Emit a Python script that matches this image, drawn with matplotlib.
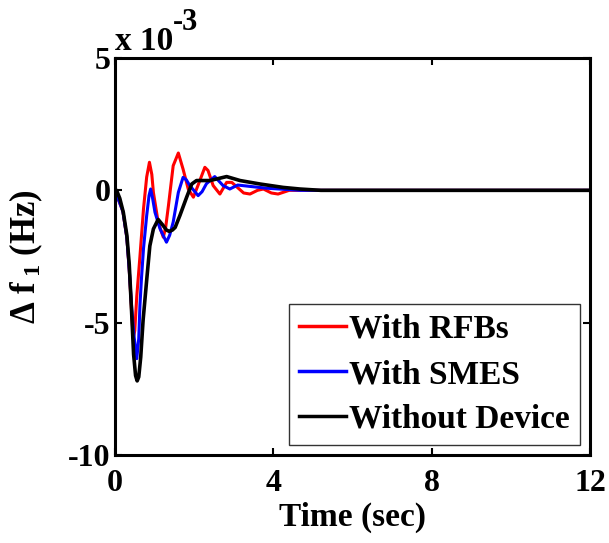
import matplotlib
matplotlib.use('Agg')
import matplotlib.pyplot as plt
import numpy as np

# values, y in units of 1e-3 Hz
t_black = [0, 0.04, 0.12, 0.21, 0.3, 0.36, 0.42, 0.47, 0.52, 0.56, 0.6, 0.65, 0.71, 0.8, 0.88,
           0.97, 1.09, 1.2, 1.3, 1.37, 1.45, 1.52, 1.64, 1.81, 1.94, 2.06, 2.4, 2.82, 3.16, 3.66,
           4.25, 4.67, 5.2, 12]
y_black = [0, 0, -0.3, -0.83, -1.7, -2.8, -4.6, -6.2, -7.0, -7.2, -7.05, -6.3, -4.9, -3.4, -2.1,
           -1.46, -1.1, -1.3, -1.5, -1.55, -1.5, -1.4, -0.95, -0.26, 0.24, 0.37, 0.37, 0.52, 0.37, 0.24,
           0.11, 0.05, 0, 0]

t_red = [0, 0.2, 0.3, 0.36, 0.42, 0.46, 0.5, 0.55, 0.63, 0.72, 0.8, 0.87, 0.93, 0.97, 1.09,
         1.22, 1.28, 1.35, 1.47, 1.6, 1.72, 1.85, 1.98, 2.1, 2.27, 2.35, 2.48, 2.65, 2.82, 2.95,
         3.1, 3.25, 3.41, 3.6, 3.75, 3.95, 4.12, 4.4, 12]
y_red = [0, -0.8, -1.8, -3.0, -4.6, -5.6, -5.3, -4.0, -2.5, -0.7, 0.5, 1.06, 0.6, -0.08, -1.2,
         -1.77, -1.4, -0.58, 0.93, 1.41, 0.8, 0.05, -0.26, 0.2, 0.87, 0.75, 0.18, -0.14, 0.3, 0.3,
         0.1, -0.1, -0.14, 0, 0.05, -0.1, -0.14, 0, 0]

t_blue = [0, 0.2, 0.3, 0.36, 0.42, 0.48, 0.55, 0.6, 0.63, 0.67, 0.72, 0.8, 0.86, 0.9, 0.95,
          1.01, 1.14, 1.3, 1.38, 1.47, 1.6, 1.72, 1.8, 1.89, 2.1, 2.2, 2.31, 2.52, 2.73, 2.9,
          3.1, 3.4, 3.83, 4.67, 12]
y_blue = [0, -0.8, -1.8, -3.0, -4.4, -5.5, -6.36, -5.6, -4.35, -3.3, -2.2, -0.96, -0.2, 0.05, -0.3,
          -0.83, -1.46, -1.96, -1.7, -1.2, -0.08, 0.49, 0.4, 0.18, -0.2, -0.05, 0.25, 0.52, 0.18, 0.05,
          0.2, 0.15, 0.08, 0, 0]

series_labels = ['With RFBs', 'With SMES', 'Without Device']
x_ticks = [0, 4, 8, 12]
y_ticks = [-10, -5, 0, 5]

plt.rcParams['font.family'] = 'Liberation Serif'
plt.rcParams['font.weight'] = 'bold'
plt.rcParams['axes.unicode_minus'] = False
plt.rcParams['mathtext.fontset'] = 'custom'
plt.rcParams['mathtext.rm'] = 'Liberation Serif:bold'
plt.rcParams['mathtext.it'] = 'Liberation Serif:bold'
plt.rcParams['mathtext.bf'] = 'Liberation Serif:bold'

fig = plt.figure(figsize=(6.09, 5.43), dpi=100)
ax = fig.add_axes([115 / 609, 1 - 455 / 543, 475 / 609, 397 / 543])

ax.plot(t_red, y_red, color='red', lw=2.2, label=series_labels[0])
ax.plot(t_blue, y_blue, color='blue', lw=2.2, label=series_labels[1])
ax.plot(t_black, y_black, color='black', lw=2.6, label=series_labels[2])

ax.set_xlim(0, 12)
ax.set_ylim(-10, 5)
ax.set_xticks(x_ticks)
ax.set_yticks(y_ticks)
ax.tick_params(direction='in', top=True, right=True, labelsize=23, width=1.5, length=5)
ax.tick_params(axis='x', pad=10)
ax.tick_params(axis='y', pad=3)
for s in ax.spines.values():
    s.set_linewidth(2.2)

ax.set_xlabel('Time (sec)', fontsize=24, fontweight='bold', labelpad=3)
ax.set_ylabel('Δ f$\\,_1$ (Hz)', fontsize=25, fontweight='bold')
ax.yaxis.set_label_coords(-0.148, 0.5)

# MATLAB-style exponent above the axes
fig.text(115 / 609, 1 - 50 / 543, 'x 10', fontsize=24, ha='left', va='baseline')
fig.text(173 / 609, 1 - 30 / 543, '-3', fontsize=22, ha='left', va='baseline')

leg = ax.legend(loc='lower right', fontsize=24, handlelength=1.4, handletextpad=0.1,
                borderpad=0.3, labelspacing=0.42, borderaxespad=0.3, fancybox=False,
                framealpha=1)
leg.get_frame().set_edgecolor('#333333')
leg.get_frame().set_linewidth(1)
for ln in leg.get_lines():
    ln.set_linewidth(2.5)

fig.savefig('out.png', dpi=100)
